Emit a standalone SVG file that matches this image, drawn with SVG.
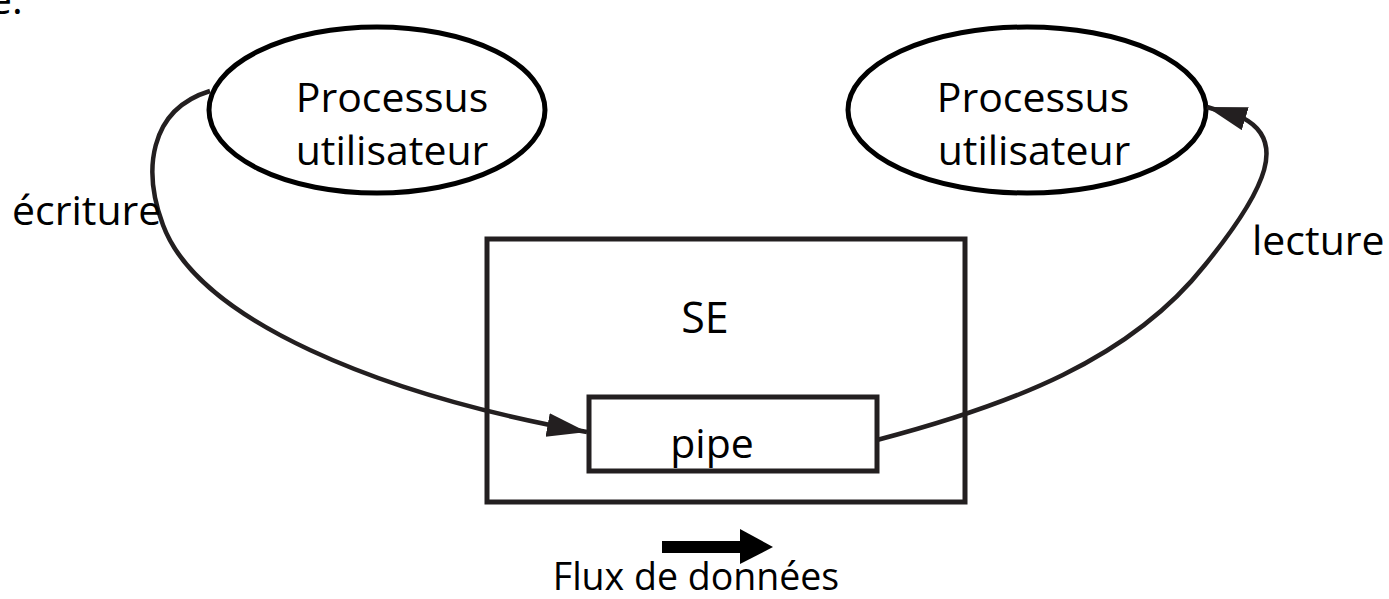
<svg xmlns="http://www.w3.org/2000/svg" width="1389" height="599" viewBox="0 0 1389 599">
  <style>
    .lbl { font-family: "Open Sans", "Liberation Sans", sans-serif; font-size: 41px; fill: #000; }
    .mid { text-anchor: middle; }
    .big { font-size: 43px; }
    .legend { font-size: 37.5px; }
    .proc { fill: #fff; stroke: #000; stroke-width: 5; }
    .box { fill: none; stroke: #231f20; stroke-width: 5; }
    .conn { fill: none; stroke: #231f20; stroke-width: 4.5; }
  </style>
  <defs>
    <marker id="head" markerUnits="userSpaceOnUse" markerWidth="42" markerHeight="26" refX="40" refY="12" orient="auto">
      <path d="M0 0 L40 12 L0 24 Z" fill="#231f20"/>
    </marker>
  </defs>

  <rect width="1389" height="599" fill="#fff"/>

  <!-- trailing text from the line above -->
  <text class="lbl" x="-11" y="14">e.</text>

  <g id="proc-writer">
    <ellipse class="proc" cx="377" cy="110" rx="168" ry="83"/>
    <text class="lbl mid" x="392" y="112">Processus</text>
    <text class="lbl mid" x="392" y="165">utilisateur</text>
  </g>

  <g id="proc-reader">
    <ellipse class="proc" cx="1027" cy="110" rx="179" ry="83"/>
    <text class="lbl mid" x="1033" y="112">Processus</text>
    <text class="lbl mid" x="1034" y="165">utilisateur</text>
  </g>

  <g id="se">
    <rect class="box" x="487" y="239" width="478" height="263"/>
    <text class="lbl mid big" x="705" y="333">SE</text>
  </g>

  <g id="pipe">
    <rect class="box" x="589" y="397" width="288" height="74"/>
    <text class="lbl mid" x="712" y="458">pipe</text>
  </g>

  <g id="connectors">
    <path class="conn" marker-end="url(#head)" d="M210 91 C148 110 143 172 163 225 C198 320 380 395 587 432"/>
    <path class="conn" marker-end="url(#head)" d="M877 440 C1010 405 1130 360 1205 265 C1270 185 1285 140 1243 118 L1207 107"/>
    <text class="lbl" x="12" y="225">écriture</text>
    <text class="lbl" x="1252" y="255">lecture</text>
  </g>

  <g id="flow-legend">
    <rect x="662" y="541" width="80" height="12" fill="#000"/>
    <path d="M740 529 L773 547 L740 564 Z" fill="#000"/>
    <text class="lbl mid legend" x="696" y="590">Flux de données</text>
  </g>
</svg>
